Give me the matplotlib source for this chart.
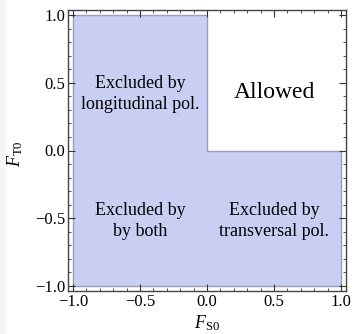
import numpy as np
import matplotlib
matplotlib.use("Agg")
import matplotlib.pyplot as plt
from matplotlib.ticker import MultipleLocator
from matplotlib.patches import Rectangle

plt.rcParams['font.family'] = ['Liberation Serif', 'DejaVu Serif']
plt.rcParams['mathtext.fontset'] = 'custom'
plt.rcParams['mathtext.rm'] = 'Liberation Serif'
plt.rcParams['mathtext.it'] = 'Liberation Serif:italic'

# excluded region boundary (F_S0, F_T0)
region_x = [-1.0, 0.0, 0.0, 1.0, 1.0, -1.0]
region_y = [1.0, 1.0, 0.0, 0.0, -1.0, -1.0]

labels = ["Excluded by\nlongitudinal pol.", "Allowed", "Excluded by\nby both", "Excluded by\ntransversal pol."]
label_x = [-0.5, 0.5, -0.5, 0.5]
label_y = [0.42, 0.43, -0.52, -0.52]
label_size = [13, 17, 13, 13]

fig = plt.figure(figsize=(3.55, 3.34), dpi=100)
fig.patches.append(Rectangle((0, 0), 6/355, 1, transform=fig.transFigure,
                             facecolor='#f6f6f6', edgecolor='none', zorder=-1))
ax = fig.add_axes([68/355, 1 - 291/334, 278/355, 281/334])

ax.fill(region_x, region_y, facecolor='#c9cff3', edgecolor='#9a9fc0', linewidth=1.0)

for t, x, y, s in zip(labels, label_x, label_y, label_size):
    ax.text(x, y, t, ha='center', va='center', fontsize=s, linespacing=1.3)

ax.set_xlim(-1.037, 1.037)
ax.set_ylim(-1.037, 1.037)
fmt = plt.FuncFormatter(lambda v, p: f"{v:.1f}".replace("-", "\u2212"))
for a in (ax.xaxis, ax.yaxis):
    a.set_major_locator(MultipleLocator(0.5))
    a.set_minor_locator(MultipleLocator(0.1))
    a.set_major_formatter(fmt)
ax.tick_params(which='both', direction='in', top=True, right=True, labelsize=12, color='#333333', pad=2)
ax.tick_params(which='major', length=5, width=0.8)
ax.tick_params(which='minor', length=2.5, width=0.6)
for sp in ax.spines.values():
    sp.set_color('#444444')
    sp.set_linewidth(1.0)

ax.set_xlabel(r'$F_{\mathrm{S0}}$', fontsize=13)
ax.set_ylabel(r'$F_{\mathrm{T0}}$', fontsize=13)
ax.xaxis.set_label_coords(0.5, -0.078)
ax.yaxis.set_label_coords(-0.155, 0.49)

fig.savefig("out.png", dpi=100)
